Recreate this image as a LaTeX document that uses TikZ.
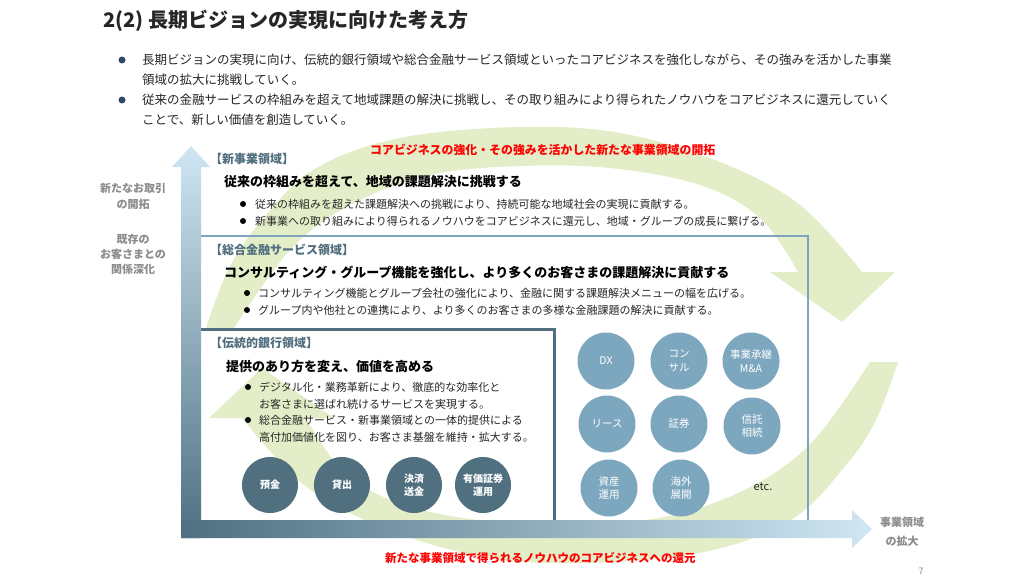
\documentclass[tikz,border=0pt]{standalone}
\usepackage{fontspec}
\setmainfont{Noto Sans CJK JP}
\definecolor{titlec}{RGB}{38,38,38}
\definecolor{navy}{RGB}{44,74,104}
\definecolor{greenarc}{RGB}{227,238,200}
\definecolor{arrdark}{RGB}{78,112,130}
\definecolor{arrlight}{RGB}{208,230,243}
\definecolor{boxtwo}{RGB}{125,165,190}
\definecolor{boxthree}{RGB}{80,110,125}
\definecolor{darkcirc}{RGB}{80,112,128}
\definecolor{lightcirc}{RGB}{125,167,190}
\definecolor{seclabel}{RGB}{80,110,125}
\definecolor{sidegray}{RGB}{140,140,140}
\definecolor{redtext}{RGB}{255,0,0}
\begin{document}
\begin{tikzpicture}[x=1pt,y=-1pt,
  titletext/.style={anchor=west,inner sep=0,text=titlec,font=\fontsize{20}{20}\selectfont\bfseries},
  toptext/.style={anchor=west,inner sep=0,text=black!85,font=\fontsize{12.5}{12.5}\selectfont},
  topdot/.style={circle,fill=navy,inner sep=0,minimum size=7pt},
  sidetext/.style={inner sep=0,text=sidegray,font=\fontsize{11}{11}\selectfont\bfseries},
  redlabel/.style={inner sep=0,text=redtext,font=\fontsize{11.5}{11.5}\selectfont\bfseries},
  sectext/.style={anchor=west,inner sep=0,text=seclabel,font=\fontsize{12}{12}\selectfont\bfseries},
  headtext/.style={anchor=west,inner sep=0,text=black,font=\fontsize{13}{13}\selectfont\bfseries},
  bultext/.style={anchor=west,inner sep=0,text=black!85,font=\fontsize{11}{11}\selectfont},
  bulldot/.style={circle,fill=black,inner sep=0,minimum size=6pt},
  dcirc/.style={circle,fill=darkcirc,inner sep=0,minimum size=56pt,text=white,align=center,
    font=\fontsize{10}{13}\selectfont\bfseries},
  lcirc/.style={circle,fill=lightcirc,inner sep=0,minimum size=57pt,text=white,align=center,
    font=\fontsize{10.5}{13.5}\selectfont},
]
\useasboundingbox (0,0) rectangle (1024,576);
\fill[white] (0,0) rectangle (1024,576);

% green cycle arrows
\fill[greenarc] plot[smooth,tension=0.6] coordinates {(206,328) (228,270) (258,225) (313,170) (400,138) (520,127) (620,133) (720,162) (800,205) (862,272)}
  -- (895,272) -- (842,322) -- (770,272)
  -- plot[smooth,tension=0.6] coordinates {(798,272) (760,218) (700,185) (610,168) (520,166) (430,175) (350,205) (290,250) (234,328)} -- cycle;
\begin{scope}[rotate around={180:(552,345)}]
\fill[greenarc] plot[smooth,tension=0.6] coordinates {(206,328) (228,270) (258,225) (313,170) (400,138) (520,127) (620,133) (720,162) (800,205) (862,272)}
  -- (895,272) -- (842,322) -- (770,272)
  -- plot[smooth,tension=0.6] coordinates {(798,272) (760,218) (700,185) (610,168) (520,166) (430,175) (350,205) (290,250) (234,328)} -- cycle;
\end{scope}

% region boxes
\coordinate (b2a) at (201,236);
\coordinate (b2b) at (808,236);
\coordinate (b2c) at (808,520);
\draw[boxtwo,line width=2pt] (b2a) -- (b2b) -- (b2c);
\coordinate (b3a) at (201,329);
\coordinate (b3b) at (554,329);
\coordinate (b3c) at (554,520);
\draw[boxthree,line width=3pt] (b3a) -- (b3b) -- (b3c);

% axes arrows
\shade[top color=arrlight,bottom color=arrdark] (181,538) -- (181,167) -- (172,167) -- (191,146) -- (210,167) -- (201,167) -- (201,538) -- cycle;
\shade[left color=arrdark,right color=arrlight] (181,520) -- (852,520) -- (852,510) -- (872,529) -- (852,548) -- (852,538) -- (181,538) -- cycle;

% title and intro
\node[titletext] (title) at (103,21) {2(2) 長期ビジョンの実現に向けた考え方};
\node[topdot] (td1) at (122,60) {};
\node[toptext] (t1) at (142,60) {長期ビジョンの実現に向け、伝統的銀行領域や総合金融サービス領域といったコアビジネスを強化しながら、その強みを活かした事業};
\node[toptext] (t2) at (142,80) {領域の拡大に挑戦していく。};
\node[topdot] (td2) at (122,100) {};
\node[toptext] (t3) at (142,100) {従来の金融サービスの枠組みを超えて地域課題の解決に挑戦し、その取り組みにより得られたノウハウをコアビジネスに還元していく};
\node[toptext] (t4) at (142,120) {ことで、新しい価値を創造していく。};

% side labels
\node[sidetext] (s1) at (133,188) {新たなお取引};
\node[sidetext] (s2) at (133,204) {の開拓};
\node[sidetext] (s3) at (133,239) {既存の};
\node[sidetext] (s4) at (133,254) {お客さまとの};
\node[sidetext] (s5) at (133,269) {関係深化};
\node[sidetext] (s6) at (902,522) {事業領域};
\node[sidetext] (s7) at (902,541) {の拡大};

% red labels
\node[redlabel,anchor=west,font=\fontsize{11.9}{11.9}\selectfont\bfseries] (r1) at (370,150) {コアビジネスの強化・その強みを活かした新たな事業領域の開拓};
\node[redlabel,anchor=west] (r2) at (385,558) {新たな事業領域で得られるノウハウのコアビジネスへの還元};

% new business
\node[sectext] (n0) at (210,159) {【新事業領域】};
\node[headtext] (n1) at (224,182) {従来の枠組みを超えて、地域の課題解決に挑戦する};
\node[bulldot] (nd1) at (243,204) {};
\node[bultext] (n2) at (255,204) {従来の枠組みを超えた課題解決への挑戦により、持続可能な地域社会の実現に貢献する。};
\node[bulldot] (nd2) at (243,221) {};
\node[bultext] (n3) at (255,221) {新事業への取り組みにより得られるノウハウをコアビジネスに還元し、地域・グループの成長に繋げる。};

% total financial
\node[sectext] (g0) at (210,250) {【総合金融サービス領域】};
\node[headtext] (g1) at (224,272) {コンサルティング・グループ機能を強化し、より多くのお客さまの課題解決に貢献する};
\node[bulldot] (gd1) at (247,293) {};
\node[bultext] (g2) at (258,293) {コンサルティング機能とグループ会社の強化により、金融に関する課題解決メニューの幅を広げる。};
\node[bulldot] (gd2) at (247,310) {};
\node[bultext] (g3) at (258,310) {グループ内や他社との連携により、より多くのお客さまの多様な金融課題の解決に貢献する。};

% traditional banking
\node[sectext] (k0) at (210,343) {【伝統的銀行領域】};
\node[headtext] (k1) at (226,367) {提供のあり方を変え、価値を高める};
\node[bulldot] (kd1) at (248,387) {};
\node[bultext] (k2) at (259,387) {デジタル化・業務革新により、徹底的な効率化と};
\node[bultext] (k3) at (259,404) {お客さまに選ばれ続けるサービスを実現する。};
\node[bulldot] (kd2) at (248,420) {};
\node[bultext] (k4) at (259,420) {総合金融サービス・新事業領域との一体的提供による};
\node[bultext] (k5) at (259,437) {高付加価値化を図り、お客さま基盤を維持・拡大する。};

% dark circles
\node[dcirc] (c1) at (270,485) {預金};
\node[dcirc] (c2) at (342,485) {貸出};
\node[dcirc] (c3) at (414,485) {決済\\送金};
\node[dcirc] (c4) at (483,485) {有価証券\\運用};

% light circles
\node[lcirc] (l1) at (606,361) {DX};
\node[lcirc] (l2) at (679,361) {コン\\サル};
\node[lcirc] (l3) at (751,361) {事業承継\\M\&A};
\node[lcirc] (l4) at (607,424) {リース};
\node[lcirc] (l5) at (679,424) {証券};
\node[lcirc] (l6) at (752,426) {信託\\相続};
\node[lcirc] (l7) at (609,488) {資産\\運用};
\node[lcirc] (l8) at (681,488) {海外\\展開};
\node[inner sep=0,font=\fontsize{11}{11}\selectfont,text=black!85] (etc) at (763,487) {etc.};

\node[inner sep=0,font=\fontsize{9}{9}\selectfont,text=sidegray] (pg) at (921,571) {7};
\end{tikzpicture}
\end{document}
